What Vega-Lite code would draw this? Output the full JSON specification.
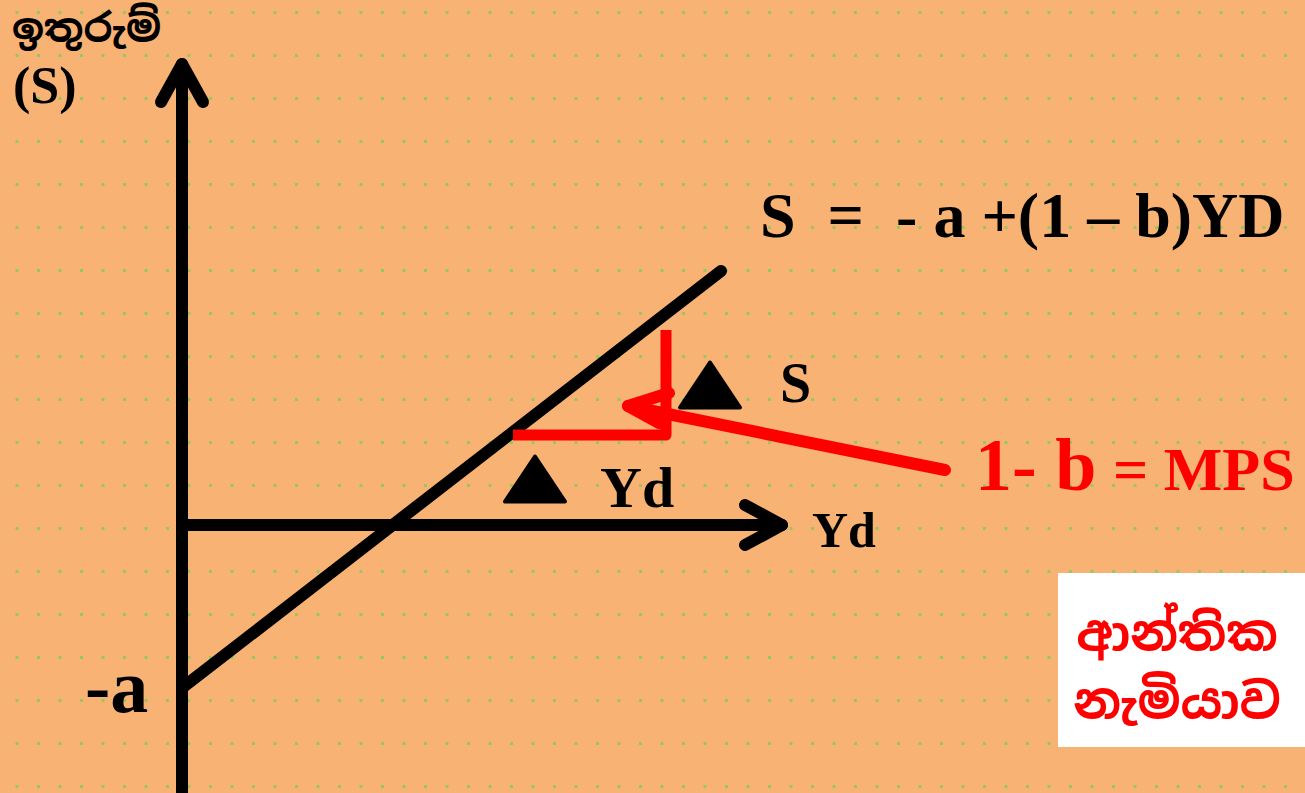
{
  "$schema": "https://vega.github.io/schema/vega-lite/v6.json",
  "width": 1305,
  "height": 793,
  "autosize": "none",
  "padding": 0,
  "background": "#F8B274",
  "config": {
    "view": {"stroke": null},
    "axisY": {"domain": false, "ticks": false, "labels": false, "title": null}
  },
  "datasets": {
    "black": [
      {"seg": "yaxis", "ord": 1, "x": 0, "y": -275},
      {"seg": "yaxis", "ord": 2, "x": 0, "y": 461},
      {"seg": "yhead", "ord": 1, "x": -21, "y": 423},
      {"seg": "yhead", "ord": 2, "x": 0, "y": 461},
      {"seg": "yhead", "ord": 3, "x": 21, "y": 423},
      {"seg": "xaxis", "ord": 1, "x": 0, "y": 0},
      {"seg": "xaxis", "ord": 2, "x": 600, "y": 0},
      {"seg": "xhead", "ord": 1, "x": 563, "y": 20},
      {"seg": "xhead", "ord": 2, "x": 600, "y": 0},
      {"seg": "xhead", "ord": 3, "x": 563, "y": -20},
      {"seg": "saving", "ord": 1, "x": 0, "y": -163},
      {"seg": "saving", "ord": 2, "x": 539, "y": 254}
    ],
    "redL": [
      {"seg": "L", "ord": 1, "x": 484, "y": 195},
      {"seg": "L", "ord": 2, "x": 484, "y": 90},
      {"seg": "L", "ord": 3, "x": 331, "y": 90}
    ],
    "redArrow": [
      {"seg": "shaft", "ord": 1, "x": 763, "y": 55},
      {"seg": "shaft", "ord": 2, "x": 446, "y": 119},
      {"seg": "head", "ord": 1, "x": 487, "y": 132},
      {"seg": "head", "ord": 2, "x": 446, "y": 119},
      {"seg": "head", "ord": 3, "x": 477, "y": 102}
    ],
    "tri": [
      {"name": "dS", "x": 528, "y": 140},
      {"name": "dY", "x": 353, "y": 46}
    ],
    "box": [
      {"x": 876, "x2": 1123, "y": -48, "y2": -222}
    ],
    "labels": [
      {"id": "ytitle", "x": -170, "y": 483, "text": "ඉතුරුම්"},
      {"id": "ysym", "x": -169, "y": 422, "text": "(S)"},
      {"id": "eq", "x": 578, "y": 288, "text": "S\u00a0\u00a0=\u00a0\u00a0- a +(1 – b)YD"},
      {"id": "dS", "x": 598, "y": 123, "text": "S"},
      {"id": "dY", "x": 418, "y": 18, "text": "Yd"},
      {"id": "xtitle", "x": 630, "y": -22, "text": "Yd"},
      {"id": "a", "x": -97, "y": -187, "text": "-a"},
      {"id": "mps1", "x": 793, "y": 35, "text": "1- b"},
      {"id": "mps2", "x": 931, "y": 35, "text": "= MPS"},
      {"id": "si1", "x": 995, "y": -125, "text": "ආන්තික"},
      {"id": "si2", "x": 995, "y": -193, "text": "නැමියාව"}
    ]
  },
  "layer": [
    {
      "data": {"name": "box"},
      "mark": {"type": "rect", "color": "#FFFFFF"},
      "encoding": {
        "x": {"field": "x", "type": "quantitative", "scale": {"domain": [-182, 1123], "nice": false, "zero": false}, "axis": null},
        "x2": {"field": "x2"},
        "y": {
          "field": "y", "type": "quantitative",
          "scale": {"domain": [-268, 525], "nice": false, "zero": false},
          "axis": {
            "values": [524.2, 513.45, 502.7, 491.95, 481.2, 470.45, 459.7, 448.95, 438.2, 427.45, 416.7, 405.95, 395.2, 384.45, 373.7, 362.95, 352.2, 341.45, 330.7, 319.95, 309.2, 298.45, 287.7, 276.95, 266.2, 255.45, 244.7, 233.95, 223.2, 212.45, 201.7, 190.95, 180.2, 169.45, 158.7, 147.95, 137.2, 126.45, 115.7, 104.95, 94.2, 83.45, 72.7, 61.95, 51.2, 40.45, 29.7, 18.95, 8.2, -2.55, -13.3, -24.05, -34.8, -45.55, -56.3, -67.05, -77.8, -88.55, -99.3, -110.05, -120.8, -131.55, -142.3, -153.05, -163.8, -174.55, -185.3, -196.05, -206.8, -217.55, -228.3, -239.05, -249.8, -260.55],
            "grid": true,
            "gridColor": "#92C95C",
            "gridWidth": 3,
            "gridOpacity": 0.95,
            "gridDash": [3, 18.5],
            "gridDashOffset": {"condition": {"test": "round((524.2 - datum.value) / 10.75) % 2 == 0", "value": 17.5}, "value": 6.5},
            "domain": false, "ticks": false, "labels": false, "title": null
          }
        },
        "y2": {"field": "y2"}
      }
    },
    {
      "data": {"name": "black"},
      "mark": {"type": "line", "color": "#000000", "strokeWidth": 12, "strokeCap": "round", "strokeJoin": "round"},
      "encoding": {
        "x": {"field": "x", "type": "quantitative", "axis": null},
        "y": {"field": "y", "type": "quantitative"},
        "detail": {"field": "seg"},
        "order": {"field": "ord"}
      }
    },
    {
      "data": {"name": "redL"},
      "mark": {"type": "line", "color": "#FF0000", "strokeWidth": 11, "strokeCap": "butt", "strokeJoin": "round"},
      "encoding": {
        "x": {"field": "x", "type": "quantitative", "axis": null},
        "y": {"field": "y", "type": "quantitative"},
        "detail": {"field": "seg"},
        "order": {"field": "ord"}
      }
    },
    {
      "data": {"name": "redArrow"},
      "mark": {"type": "line", "color": "#FF0000", "strokeWidth": 12, "strokeCap": "round", "strokeJoin": "round"},
      "encoding": {
        "x": {"field": "x", "type": "quantitative", "axis": null},
        "y": {"field": "y", "type": "quantitative"},
        "detail": {"field": "seg"},
        "order": {"field": "ord"}
      }
    },
    {
      "data": {"name": "tri"},
      "mark": {"type": "point", "shape": "M0,-0.75L-1,0.75L1,0.75Z", "size": 3600, "filled": true, "fill": "#000000", "stroke": "#000000", "strokeWidth": 4, "strokeJoin": "round", "opacity": 1},
      "encoding": {
        "x": {"field": "x", "type": "quantitative", "axis": null},
        "y": {"field": "y", "type": "quantitative"}
      }
    },
    {
      "data": {"name": "labels"},
      "transform": [{"filter": "datum.id == 'ytitle'"}],
      "mark": {"type": "text", "font": "Noto Sans Sinhala, Iskoola Pota, Noto Sans, sans-serif", "fontWeight": "bold", "fontSize": 40, "align": "left", "baseline": "alphabetic", "color": "#000000"},
      "encoding": {
        "x": {"field": "x", "type": "quantitative", "axis": null},
        "y": {"field": "y", "type": "quantitative"},
        "text": {"field": "text"}
      }
    },
    {
      "data": {"name": "labels"},
      "transform": [{"filter": "datum.id == 'ysym'"}],
      "mark": {"type": "text", "font": "Liberation Serif", "fontWeight": "bold", "fontSize": 52, "align": "left", "baseline": "alphabetic", "color": "#000000"},
      "encoding": {
        "x": {"field": "x", "type": "quantitative", "axis": null},
        "y": {"field": "y", "type": "quantitative"},
        "text": {"field": "text"}
      }
    },
    {
      "data": {"name": "labels"},
      "transform": [{"filter": "datum.id == 'eq'"}],
      "mark": {"type": "text", "font": "Liberation Serif", "fontWeight": "bold", "fontSize": 64, "align": "left", "baseline": "alphabetic", "color": "#000000"},
      "encoding": {
        "x": {"field": "x", "type": "quantitative", "axis": null},
        "y": {"field": "y", "type": "quantitative"},
        "text": {"field": "text"}
      }
    },
    {
      "data": {"name": "labels"},
      "transform": [{"filter": "datum.id == 'dS'"}],
      "mark": {"type": "text", "font": "Liberation Serif", "fontWeight": "bold", "fontSize": 56, "align": "left", "baseline": "alphabetic", "color": "#000000"},
      "encoding": {
        "x": {"field": "x", "type": "quantitative", "axis": null},
        "y": {"field": "y", "type": "quantitative"},
        "text": {"field": "text"}
      }
    },
    {
      "data": {"name": "labels"},
      "transform": [{"filter": "datum.id == 'dY'"}],
      "mark": {"type": "text", "font": "Liberation Serif", "fontWeight": "bold", "fontSize": 58, "align": "left", "baseline": "alphabetic", "color": "#000000"},
      "encoding": {
        "x": {"field": "x", "type": "quantitative", "axis": null},
        "y": {"field": "y", "type": "quantitative"},
        "text": {"field": "text"}
      }
    },
    {
      "data": {"name": "labels"},
      "transform": [{"filter": "datum.id == 'xtitle'"}],
      "mark": {"type": "text", "font": "Liberation Serif", "fontWeight": "bold", "fontSize": 50, "align": "left", "baseline": "alphabetic", "color": "#000000"},
      "encoding": {
        "x": {"field": "x", "type": "quantitative", "axis": null},
        "y": {"field": "y", "type": "quantitative"},
        "text": {"field": "text"}
      }
    },
    {
      "data": {"name": "labels"},
      "transform": [{"filter": "datum.id == 'a'"}],
      "mark": {"type": "text", "font": "Liberation Serif", "fontWeight": "bold", "fontSize": 76, "align": "left", "baseline": "alphabetic", "color": "#000000"},
      "encoding": {
        "x": {"field": "x", "type": "quantitative", "axis": null},
        "y": {"field": "y", "type": "quantitative"},
        "text": {"field": "text"}
      }
    },
    {
      "data": {"name": "labels"},
      "transform": [{"filter": "datum.id == 'mps1'"}],
      "mark": {"type": "text", "font": "Liberation Serif", "fontWeight": "bold", "fontSize": 74, "align": "left", "baseline": "alphabetic", "color": "#FF0000"},
      "encoding": {
        "x": {"field": "x", "type": "quantitative", "axis": null},
        "y": {"field": "y", "type": "quantitative"},
        "text": {"field": "text"}
      }
    },
    {
      "data": {"name": "labels"},
      "transform": [{"filter": "datum.id == 'mps2'"}],
      "mark": {"type": "text", "font": "Liberation Serif", "fontWeight": "bold", "fontSize": 62, "align": "left", "baseline": "alphabetic", "color": "#FF0000"},
      "encoding": {
        "x": {"field": "x", "type": "quantitative", "axis": null},
        "y": {"field": "y", "type": "quantitative"},
        "text": {"field": "text"}
      }
    },
    {
      "data": {"name": "labels"},
      "transform": [{"filter": "datum.id == 'si1' || datum.id == 'si2'"}],
      "mark": {"type": "text", "font": "Noto Sans Sinhala, Iskoola Pota, Noto Sans, sans-serif", "fontWeight": "bold", "fontSize": 49, "align": "center", "baseline": "alphabetic", "color": "#FF0000"},
      "encoding": {
        "x": {"field": "x", "type": "quantitative", "axis": null},
        "y": {"field": "y", "type": "quantitative"},
        "text": {"field": "text"}
      }
    }
  ]
}
